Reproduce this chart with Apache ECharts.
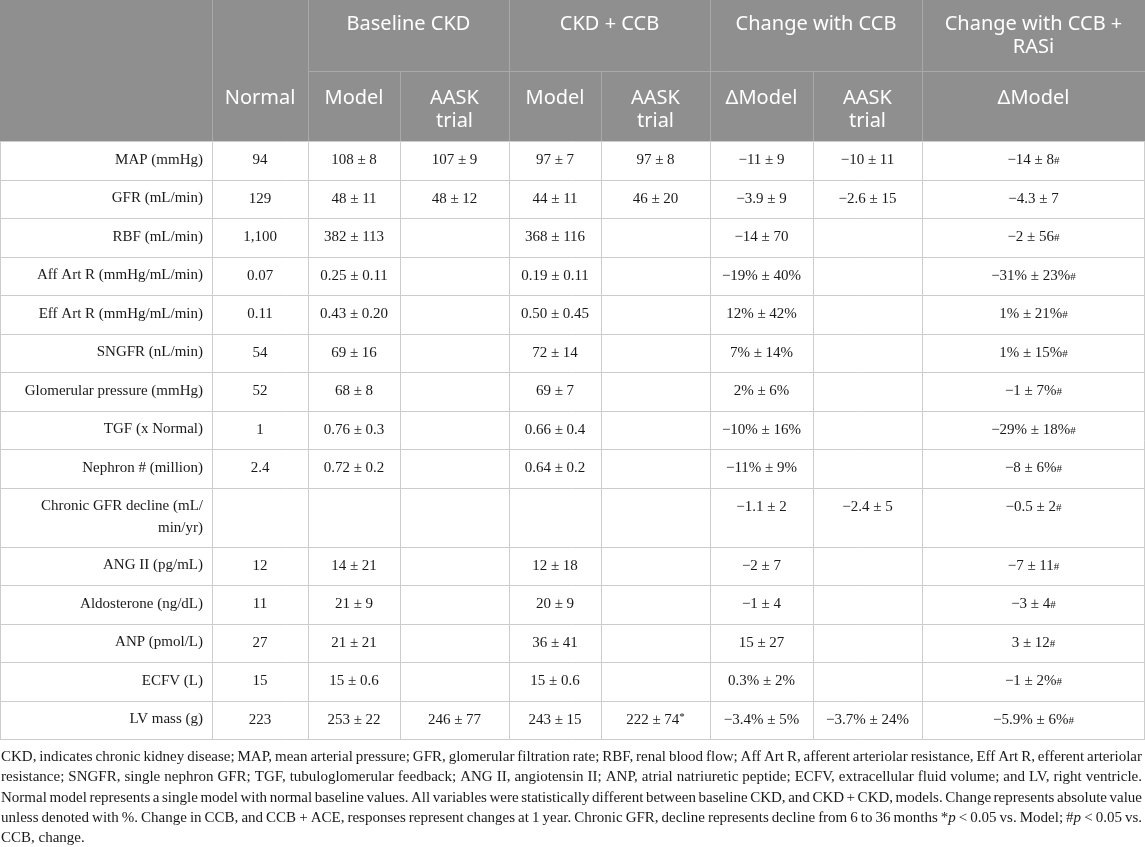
<!DOCTYPE html>
<html>
<head>
<meta charset="utf-8">
<script src="https://cdn.jsdelivr.net/npm/echarts@6/dist/echarts.min.js"></script>
<style>
html, body { margin: 0; padding: 0; background: #fff; }
#chart { width: 1145px; height: 847px; }
</style>
</head>
<body>
<div id="chart"></div>
<script>
// table content
var groupLabels = ['Baseline CKD', 'CKD + CCB', 'Change with CCB', 'Change with CCB +\nRASi'];
var subLabels = ['Normal', 'Model', 'AASK\ntrial', 'Model', 'AASK\ntrial', '\u0394Model', 'AASK\ntrial', '\u0394Model'];
var rowLabels = ['MAP (mmHg)', 'GFR (mL/min)', 'RBF (mL/min)', 'Aff Art R (mmHg/mL/min)', 'Eff Art R (mmHg/mL/min)',
    'SNGFR (nL/min)', 'Glomerular pressure (mmHg)', 'TGF (x Normal)', 'Nephron # (million)',
    'Chronic GFR decline (mL/\nmin/yr)', 'ANG II (pg/mL)', 'Aldosterone (ng/dL)', 'ANP (pmol/L)', 'ECFV (L)', 'LV mass (g)'];
var normal = ['94', '129', '1,100', '0.07', '0.11', '54', '52', '1', '2.4', '', '12', '11', '27', '15', '223'];
var baseModel = ['108 ± 8', '48 ± 11', '382 ± 113', '0.25 ± 0.11', '0.43 ± 0.20', '69 ± 16', '68 ± 8', '0.76 ± 0.3', '0.72 ± 0.2', '', '14 ± 21', '21 ± 9', '21 ± 21', '15 ± 0.6', '253 ± 22'];
var baseAask = ['107 ± 9', '48 ± 12', '', '', '', '', '', '', '', '', '', '', '', '', '246 ± 77'];
var ccbModel = ['97 ± 7', '44 ± 11', '368 ± 116', '0.19 ± 0.11', '0.50 ± 0.45', '72 ± 14', '69 ± 7', '0.66 ± 0.4', '0.64 ± 0.2', '', '12 ± 18', '20 ± 9', '36 ± 41', '15 ± 0.6', '243 ± 15'];
var ccbAask = ['97 ± 8', '46 ± 20', '', '', '', '', '', '', '', '', '', '', '', '', '222 ± 74*'];
var deltaModel = ['\u221211 ± 9', '\u22123.9 ± 9', '\u221214 ± 70', '\u221219% ± 40%', '12% ± 42%', '7% ± 14%', '2% ± 6%', '\u221210% ± 16%', '\u221211% ± 9%', '\u22121.1 ± 2', '\u22122 ± 7', '\u22121 ± 4', '15 ± 27', '0.3% ± 2%', '\u22123.4% ± 5%'];
var deltaAask = ['\u221210 ± 11', '\u22122.6 ± 15', '', '', '', '', '', '', '', '\u22122.4 ± 5', '', '', '', '', '\u22123.7% ± 24%'];
var deltaRasi = ['\u221214 ± 8#', '\u22124.3 ± 7', '\u22122 ± 56#', '\u221231% ± 23%#', '1% ± 21%#', '1% ± 15%#', '\u22121 ± 7%#', '\u221229% ± 18%#', '\u22128 ± 6%#', '\u22120.5 ± 2#', '\u22127 ± 11#', '\u22123 ± 4#', '3 ± 12#', '\u22121 ± 2%#', '\u22125.9% ± 6%#'];
var footnote = [
    'CKD, indicates chronic kidney disease; MAP, mean arterial pressure; GFR, glomerular filtration rate; RBF, renal blood flow; Aff Art R, afferent arteriolar resistance, Eff Art R, efferent arteriolar',
    'resistance; SNGFR, single nephron GFR; TGF, tubuloglomerular feedback; ANG II, angiotensin II; ANP, atrial natriuretic peptide; ECFV, extracellular fluid volume; and LV, right ventricle.',
    'Normal model represents a single model with normal baseline values. All variables were statistically different between baseline CKD, and CKD + CKD, models. Change represents absolute value',
    'unless denoted with %. Change in CCB, and CCB + ACE, responses represent changes at 1 year. Chronic GFR, decline represents decline from 6 to 36 months *p < 0.05 vs. Model; #p < 0.05 vs.',
    'CCB, change.'
];

var colX = [0, 212, 308, 400, 509, 601, 710, 813, 922, 1145];
var groupSpan = [[2, 4], [4, 6], [6, 8], [8, 9]];
var headTop = 0, headMid = 71, headBot = 141;
var rowH = 38.5, rowH2 = 59;
var serif = '"Liberation Serif", "DejaVu Serif", serif';
var sans = '"Noto Sans", "Open Sans", sans-serif';
var gridCol = '#cccccc';
var headLine = '#a9a9a9';

var columns = [normal, baseModel, baseAask, ccbModel, ccbAask, deltaModel, deltaAask, deltaRasi];

var g = [];
function line(x1, y1, x2, y2, c) {
    g.push({ type: 'line', shape: { x1: x1, y1: y1, x2: x2, y2: y2 }, style: { stroke: c, lineWidth: 1 }, z: 5 });
}
function txt(x, y, s, opt) {
    var st = {
        text: s, x: x, y: y, fill: opt.fill || '#1a1a1a',
        font: opt.font, align: opt.align || 'center', verticalAlign: opt.va || 'middle',
        lineHeight: opt.lh || 23
    };
    if (opt.rich) st.rich = opt.rich;
    g.push({ type: 'text', style: st, z: 10 });
}

// header
g.push({ type: 'rect', shape: { x: 0, y: headTop, width: 1145, height: headBot - headTop }, style: { fill: '#8f8f8f' }, z: 1 });
line(308, headMid + 0.5, 1145, headMid + 0.5, headLine);
[1, 2, 4, 6, 8].forEach(function (i) { line(colX[i] + 0.5, headTop, colX[i] + 0.5, headBot, headLine); });
[3, 5, 7].forEach(function (i) { line(colX[i] + 0.5, headMid, colX[i] + 0.5, headBot, headLine); });

var headFont = '20px ' + sans;
groupLabels.forEach(function (s, i) {
    var a = colX[groupSpan[i][0]], b = colX[groupSpan[i][1]];
    txt((a + b) / 2, 12.5, s, { font: headFont, fill: '#ffffff', va: 'top', lh: 23 });
});
subLabels.forEach(function (s, i) {
    var a = colX[i + 1], b = colX[i + 2];
    txt((a + b) / 2, 86.5, s, { font: headFont, fill: '#ffffff', va: 'top', lh: 23 });
});

// body
var bodyFont = '15px ' + serif;
var rich = {
    n: { font: bodyFont, fill: '#1a1a1a' },
    h: { font: '11px ' + serif, fill: '#1a1a1a', padding: [2, 0, 0, 0] },
    st: { font: '11px ' + serif, fill: '#1a1a1a', padding: [0, 0, 5, 0] }
};
function cellText(s) {
    if (s.slice(-1) === '#') return '{n|' + s.slice(0, -1) + '}{h|#}';
    if (s.slice(-1) === '*') return '{n|' + s.slice(0, -1) + '}{st|*}';
    return '{n|' + s + '}';
}

var y = headBot;
line(0, headBot + 0.5, 1145, headBot + 0.5, gridCol);
rowLabels.forEach(function (lab, r) {
    var h = lab.indexOf('\n') >= 0 ? rowH2 : rowH;
    var cy = y + rowH / 2;
    txt(203, y + 8, lab, { font: bodyFont, align: 'right', va: 'top', lh: 22 });
    columns.forEach(function (col, c) {
        var s = col[r];
        if (!s) return;
        txt((colX[c + 1] + colX[c + 2]) / 2, cy, cellText(s), { font: bodyFont, rich: rich });
    });
    y += h;
    line(0, Math.round(y) + 0.5, 1145, Math.round(y) + 0.5, gridCol);
});
var tableBottom = Math.round(y);
for (var i = 0; i < colX.length; i++) {
    var xx = i === colX.length - 1 ? 1144.5 : colX[i] + 0.5;
    line(xx, headBot, xx, tableBottom + 0.5, gridCol);
}

// footnote, justified line by line
var fnFont = '15px ' + serif;
var ctx = document.createElement('canvas').getContext('2d');
ctx.font = fnFont;
var fnLeft = 1, fnRight = 1142;
var fnRich = {
    n: { font: fnFont, fill: '#1a1a1a' },
    i: { font: 'italic ' + fnFont, fill: '#1a1a1a' }
};
footnote.forEach(function (ln, k) {
    var words = ln.split(' ');
    var widths = words.map(function (w) { return ctx.measureText(w).width; });
    var total = widths.reduce(function (a, b) { return a + b; }, 0);
    var last = k === footnote.length - 1;
    var gap = last ? ctx.measureText(' ').width : (fnRight - fnLeft - total) / (words.length - 1);
    var x = fnLeft;
    var yy = tableBottom + 18 + k * 20.3;
    words.forEach(function (w, j) {
        var s;
        if (w === '*p' || w === '#p') s = '{n|' + w.charAt(0) + '}{i|p}';
        else s = '{n|' + w + '}';
        txt(x, yy, s, { font: fnFont, align: 'left', rich: fnRich });
        x += widths[j] + gap;
    });
});

var chart = echarts.init(document.getElementById('chart'));
chart.setOption({
    animation: false,
    graphic: { elements: g }
});
</script>
</body>
</html>
